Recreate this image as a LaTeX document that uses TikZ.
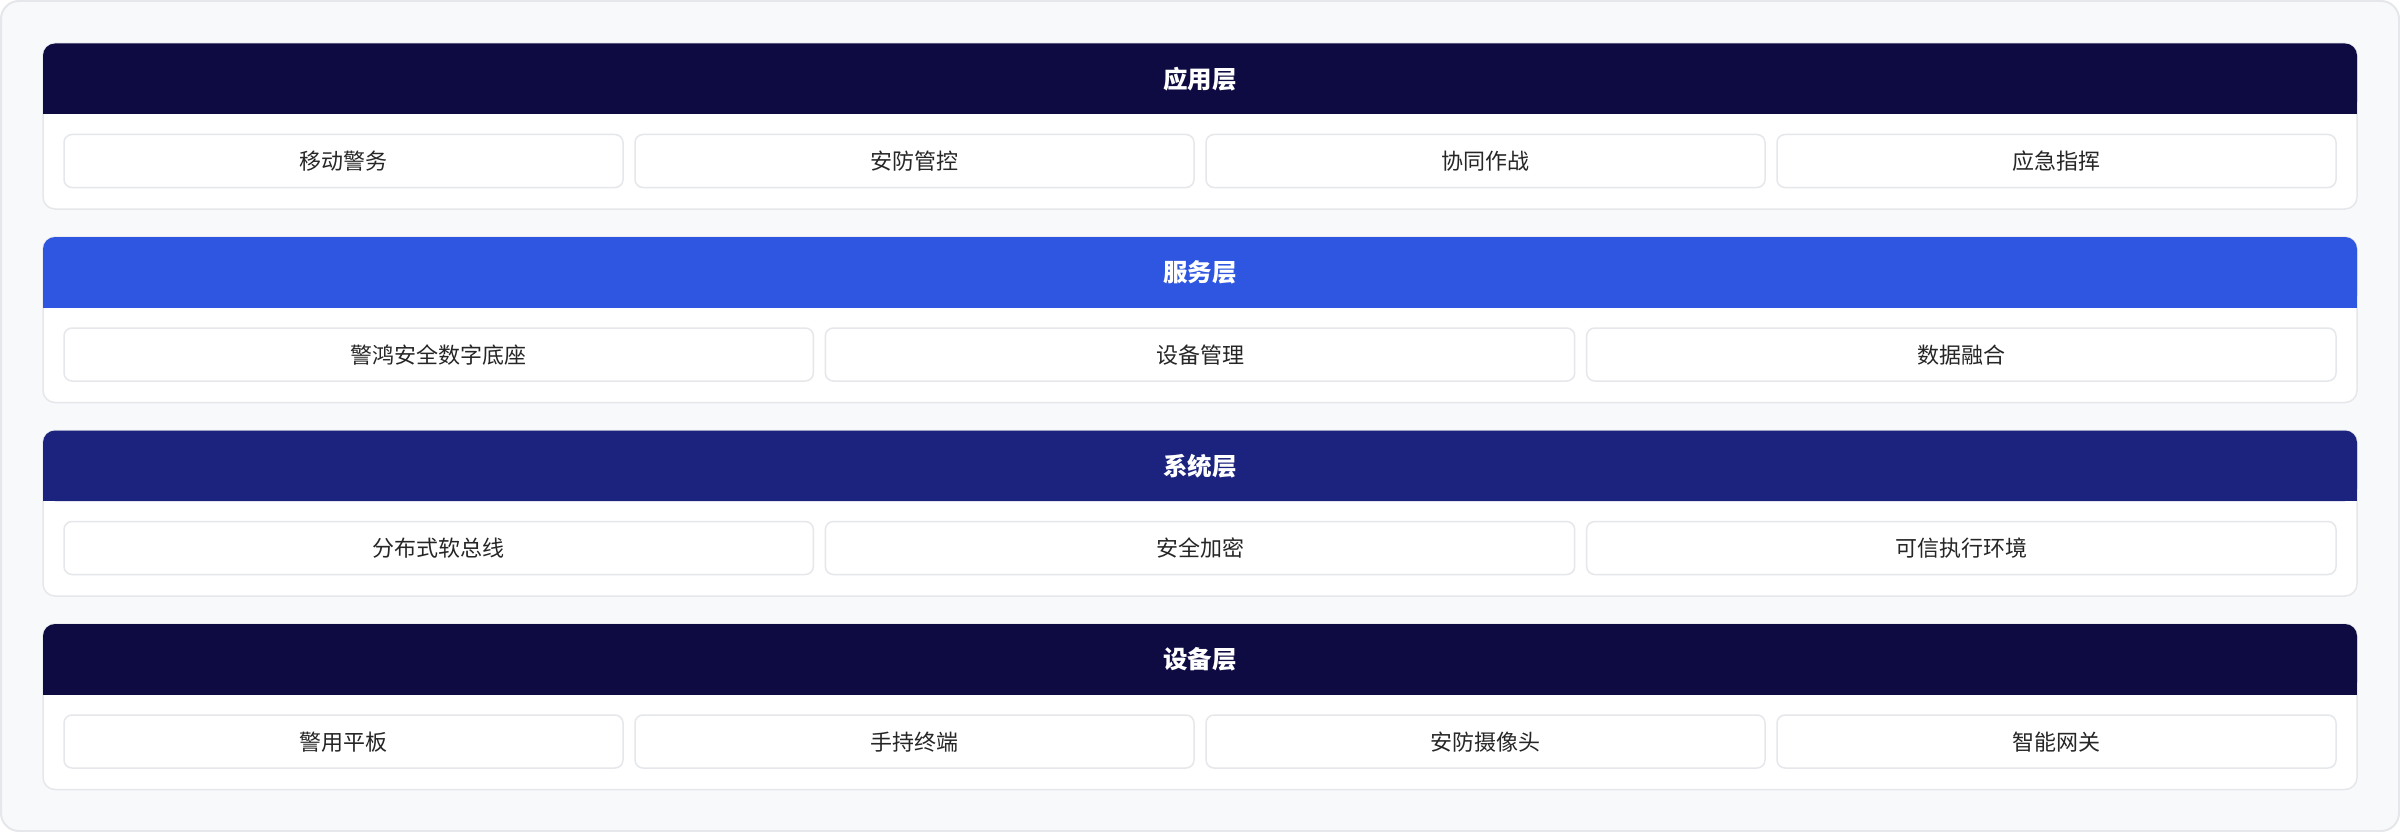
\documentclass[tikz,border=0pt]{standalone}
\usepackage{fontspec}
\setmainfont{Noto Sans CJK SC}
\definecolor{bgc}{HTML}{F8F9FB}
\definecolor{bordc}{HTML}{E5E7EB}
\definecolor{hdra}{HTML}{0E0B42}
\definecolor{hdrb}{HTML}{2F56E0}
\definecolor{hdrc}{HTML}{1B237E}
\definecolor{txtc}{HTML}{262626}
\tikzset{
  outerbox/.style={fill=bgc, draw=bordc, line width=2pt, rounded corners=18pt},
  layerbox/.style={rectangle, fill=white, draw=bordc, line width=1.5pt, rounded corners=12pt, inner sep=0pt, outer sep=0pt, minimum width=2314pt, minimum height=165.5pt, anchor=north west},
  hdrtext/.style={text=white, font=\fontsize{24.5}{28}\selectfont\bfseries, inner sep=0pt, text height=19pt, text depth=0pt},
  itembox/.style={rectangle, fill=white, draw=bordc, line width=1.5pt, rounded corners=8pt, inner sep=0pt, outer sep=0pt, minimum height=53pt, text=txtc, font=\fontsize{22}{26}\selectfont, text height=17pt, text depth=0pt},
  itemfour/.style={itembox, minimum width=559pt},
  itemthree/.style={itembox, minimum width=749.33pt}
}
\begin{document}
\begin{tikzpicture}[x=1pt,y=-1pt]
\useasboundingbox (0,0) rectangle (2400,832);
\draw[outerbox] (1,1) rectangle (2399,831);

% Layer 1
\node[layerbox] (L1) at (43,43.5) {};
\fill[hdra, rounded corners=12pt] (43,43.5) rectangle (2357,114);
\fill[hdra] (43,100) rectangle (2357,114);
\node[hdrtext] (h1) at (1200,78.75) {应用层};
\node[itemfour] (a1) at (343.5,161) {移动警务};
\node[itemfour] (a2) at (914.5,161) {安防管控};
\node[itemfour] (a3) at (1485.5,161) {协同作战};
\node[itemfour] (a4) at (2056.5,161) {应急指挥};

% Layer 2
\node[layerbox] (L2) at (43,237) {};
\fill[hdrb, rounded corners=12pt] (43,237) rectangle (2357,307.5);
\fill[hdrb] (43,293.5) rectangle (2357,307.5);
\node[hdrtext] (h2) at (1200,272.25) {服务层};
\node[itemthree] (b1) at (438.67,354.5) {警鸿安全数字底座};
\node[itemthree] (b2) at (1200,354.5) {设备管理};
\node[itemthree] (b3) at (1961.33,354.5) {数据融合};

% Layer 3
\node[layerbox] (L3) at (43,430.5) {};
\fill[hdrc, rounded corners=12pt] (43,430.5) rectangle (2357,501);
\fill[hdrc] (43,487) rectangle (2357,501);
\node[hdrtext] (h3) at (1200,465.75) {系统层};
\node[itemthree] (c1) at (438.67,548) {分布式软总线};
\node[itemthree] (c2) at (1200,548) {安全加密};
\node[itemthree] (c3) at (1961.33,548) {可信执行环境};

% Layer 4
\node[layerbox] (L4) at (43,624) {};
\fill[hdra, rounded corners=12pt] (43,624) rectangle (2357,694.5);
\fill[hdra] (43,680.5) rectangle (2357,694.5);
\node[hdrtext] (h4) at (1200,659.25) {设备层};
\node[itemfour] (d1) at (343.5,741.5) {警用平板};
\node[itemfour] (d2) at (914.5,741.5) {手持终端};
\node[itemfour] (d3) at (1485.5,741.5) {安防摄像头};
\node[itemfour] (d4) at (2056.5,741.5) {智能网关};
\end{tikzpicture}
\end{document}
